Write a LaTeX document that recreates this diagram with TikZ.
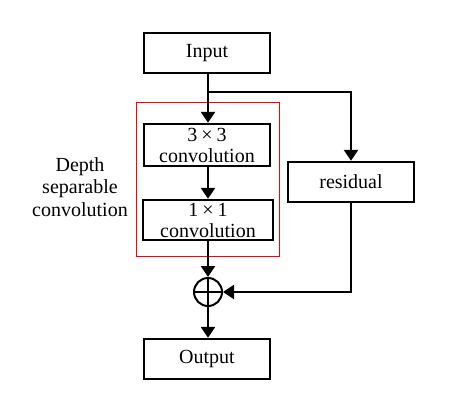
\documentclass[tikz,border=0pt]{standalone}
\usepackage{fontspec}
\setmainfont{Liberation Serif}
\usetikzlibrary{arrows.meta}
\begin{document}
\begin{tikzpicture}[x=1pt,y=-1pt,
  box/.style={draw,line width=2.4pt,minimum width=126pt,minimum height=40pt,inner sep=0pt,align=center,font=\fontsize{20}{23}\selectfont},
  conn/.style={line width=2.4pt,-{Triangle[length=11pt,width=14pt]}},
  lbl/.style={align=center,font=\fontsize{20}{22.5}\selectfont}]
\useasboundingbox (0,0) rectangle (449,401);
\node[box] (in) at (207,53) {Input};
\node[box,minimum height=42pt] (c3) at (207,145) {3\hspace{4pt}×\hspace{4pt}3\\[-2pt]convolution};
\node[box,minimum width=130pt] (c1) at (208,220) {1\hspace{4pt}×\hspace{4pt}1\\[-2pt]convolution};
\node[box] (res) at (351,182) {residual};
\node[box,minimum width=0pt,minimum height=0pt,circle,line width=2pt,inner sep=0pt,minimum size=28pt] (plus) at (208,292) {};
\node[box] (out) at (207,359) {Output};
\draw[red,line width=0.8pt] (136,102) rectangle (279,256);
\node[lbl] (lab) at (80,187) {Depth\\separable\\convolution};
\draw[line width=2pt] (plus.north) -- (plus.south) (plus.west) -- (plus.east);
\coordinate (br) at (208,92);
\draw[conn] (in.south -| 208,0) -- (c3.north -| 208,0);
\draw[conn] (br) -| (res.north);
\draw[conn] (c3.south -| 208,0) -- (c1.north);
\draw[conn] (c1.south) -- (plus.north);
\draw[conn] (res.south) |- (plus.east);
\draw[conn] (plus.south) -- (out.north -| plus.south);
\end{tikzpicture}
\end{document}
